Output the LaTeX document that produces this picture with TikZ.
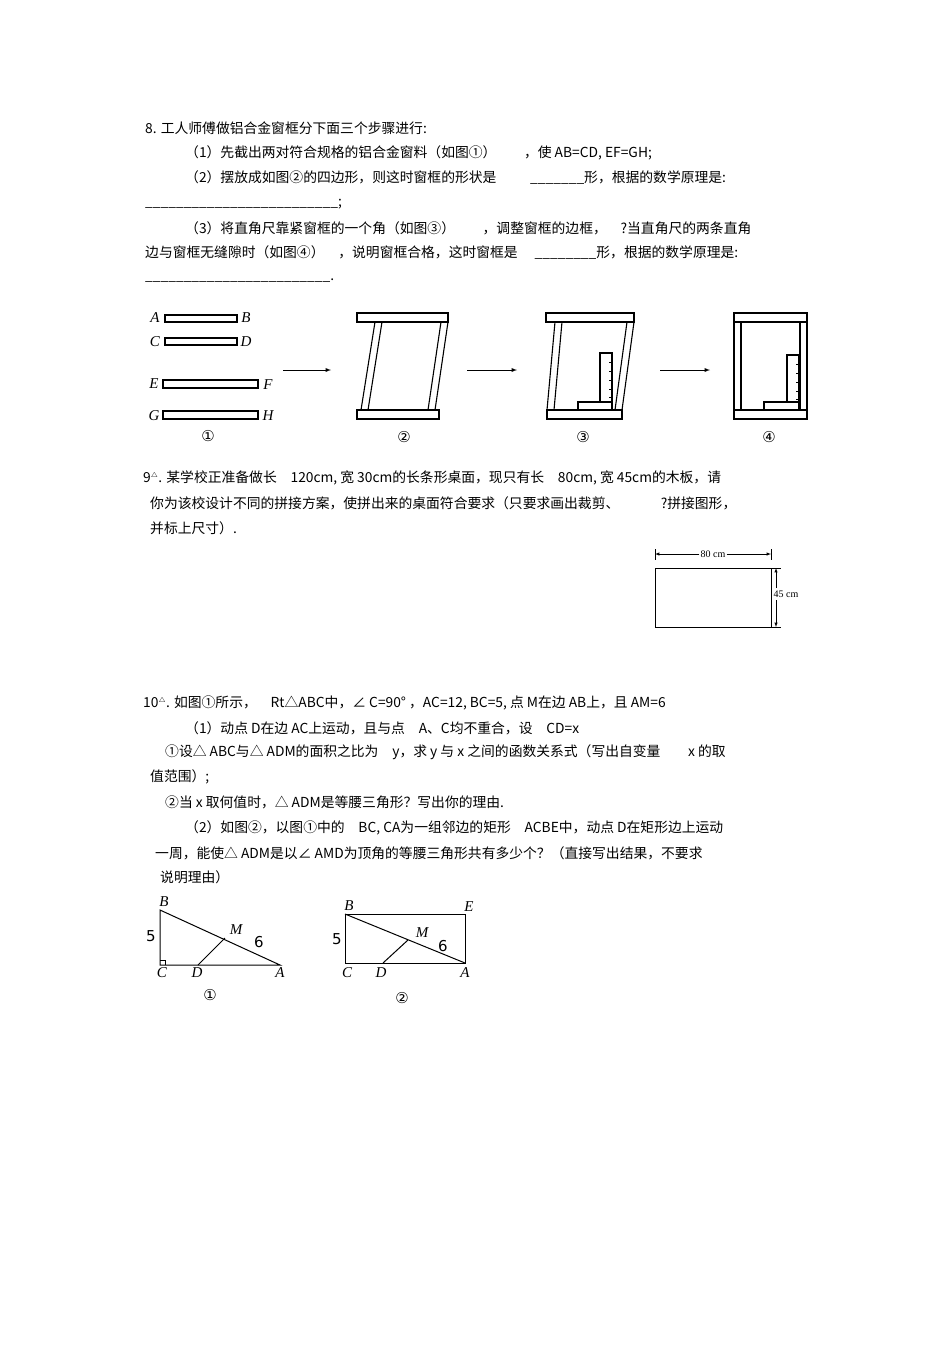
\documentclass[tikz,border=0pt]{standalone}
\usepackage{fontspec}
\setmainfont{Liberation Sans}
\newfontfamily\cjk{Noto Sans CJK SC}
\newfontfamily\djsans{DejaVu Sans}
\newfontfamily\serif{Liberation Serif}
\begin{document}
\begin{tikzpicture}[x=1pt,y=-1pt,
  txt/.style={anchor=west,inner sep=0pt,font=\cjk\fontsize{13.8}{15}\selectfont},
  lab/.style={inner sep=0pt,font=\serif\itshape\fontsize{15}{16}\selectfont},
  num/.style={inner sep=0pt,font=\djsans\fontsize{15}{16}\selectfont},
  bar/.style={draw,line width=1.1pt},
  arr/.style={-latex,line width=0.9pt},
  ln/.style={line width=1pt}]
\useasboundingbox (0,0) rectangle (950,1345);
% Q8 text
\node[txt] (t1) at (145,128) {8. 工人师傅做铝合金窗框分下面三个步骤进行:};
\node[txt] (t2) at (185,153) {（1）先截出两对符合规格的铝合金窗料（如图①）\quad\quad ，使 AB=CD, EF=GH;};
\node[txt] (t3) at (185,178) {（2）摆放成如图②的四边形，则这时窗框的形状是\quad\quad\ \ \_\_\_\_\_\_\_形，根据的数学原理是:};
\node[txt] (t4) at (145,204) {\_\_\_\_\_\_\_\_\_\_\_\_\_\_\_\_\_\_\_\_\_\_\_\_\_;};
\node[txt] (t5) at (185,228) {（3）将直角尺靠紧窗框的一个角（如图③）\quad\quad ，调整窗框的边框，\quad ?当直角尺的两条直角};
\node[txt] (t6) at (145,253) {边与窗框无缝隙时（如图④）\quad ，说明窗框合格，这时窗框是\quad\ \_\_\_\_\_\_\_\_形，根据的数学原理是:};
\node[txt] (t7) at (145,281) {\_\_\_\_\_\_\_\_\_\_\_\_\_\_\_\_\_\_\_\_\_\_\_\_.};
% fig 1
\draw[bar] (165,315) rectangle (237,322);
\draw[bar] (165,338) rectangle (237,345);
\draw[bar] (163,380) rectangle (258,388);
\draw[bar] (163,411) rectangle (258,419);
\node[lab] (A) at (155,318) {A}; \node[lab] (B) at (246,318) {B};
\node[lab] (C) at (155,342) {C}; \node[lab] (D) at (246,342) {D};
\node[lab] (E) at (154,384) {E}; \node[lab] (F) at (268,385) {F};
\node[lab] (G) at (154,416) {G}; \node[lab] (H) at (268,416) {H};
\node[num] (c1) at (208,436) {①};
\coordinate (a1s) at (283,370); \coordinate (a1e) at (331,370);
\coordinate (a2s) at (467,370); \coordinate (a2e) at (517,370);
\coordinate (a3s) at (660,370); \coordinate (a3e) at (710,370);
\draw[arr] (a1s) -- (a1e); \draw[arr] (a2s) -- (a2e); \draw[arr] (a3s) -- (a3e);
% frame 2
\draw[bar] (357,313) rectangle (448,322);
\draw[bar] (357,410) rectangle (439,419);
\draw[bar] (375,322) -- (361,410) (382,322) -- (368,410);
\draw[bar] (441,322) -- (428,410) (448,322) -- (435,410);
\node[num] (c2) at (404,437) {②};
% frame 3
\draw[bar] (546,313) rectangle (634,322);
\draw[bar] (547,410) rectangle (622,419);
\draw[bar] (555,322) -- (547,410) (562,322) -- (554,410);
\draw[bar] (627,322) -- (615,410) (634,322) -- (622,410);
\draw[bar] (600,353) rectangle (612,402);
\draw[bar] (578,402) rectangle (612,410);
\foreach \y in {362,371,380,389,397} \draw[line width=0.8pt] (612,\y) -- (609,\y);
\node[num] (c3) at (583,437) {③};
% frame 4
\draw[bar] (734,313) rectangle (807,322);
\draw[bar] (734,410) rectangle (807,419);
\draw[bar] (734,322) rectangle (741,410);
\draw[bar] (800,322) rectangle (807,410);
\draw[bar] (787,355) rectangle (799,402);
\draw[bar] (764,402) rectangle (799,410);
\foreach \y in {364,373,382,391,399} \draw[line width=0.8pt] (799,\y) -- (796,\y);
\node[num] (c4) at (769,437) {④};
% Q9
\node[txt] (u1) at (143,478) {9$^{\scriptscriptstyle\triangle}$. 某学校正准备做长\quad 120cm, 宽\ 30cm的长条形桌面，现只有长\quad 80cm, 宽\ 45cm的木板，请};
\node[txt] (u2) at (150,503) {你为该校设计不同的拼接方案，使拼出来的桌面符合要求（只要求画出裁剪、\qquad\quad ?拼接图形，};
\node[txt] (u3) at (150,528) {并标上尺寸）.};
\draw[ln] (655,568) rectangle (771,627);
\draw[line width=0.5pt] (655,549) -- (655,560) (771,549) -- (771,560);
\node[inner sep=1pt,fill=white,font=\serif\fontsize{10}{11}\selectfont] (l80) at (713,554) {80 cm};
\draw[-latex,line width=0.5pt] (l80.west) -- (655,554);
\draw[-latex,line width=0.5pt] (l80.east) -- (771,554);
\draw[line width=0.5pt] (771,568) -- (781,568) (771,627) -- (781,627);
\node[inner sep=1pt,fill=white,font=\serif\fontsize{10}{11}\selectfont] (l45) at (786,594) {45 cm};
\draw[-latex,line width=0.5pt] (776,588) -- (776,568);
\draw[-latex,line width=0.5pt] (776,600) -- (776,627);
% Q10
\node[txt] (v1) at (143,703) {10$^{\scriptscriptstyle\triangle}$. 如图①所示，\quad Rt△ABC中，∠ C=90°\ ，AC=12, BC=5, 点 M在边 AB上，且 AM=6};
\node[txt] (v2) at (185,728) {（1）动点 D在边 AC上运动，且与点\quad A、C均不重合，设\quad CD=x};
\node[txt] (v3) at (165,752) {①设△ ABC与△ ADM的面积之比为\quad y，求 y 与 x 之间的函数关系式（写出自变量\qquad x 的取};
\node[txt] (v4) at (150,777) {值范围）;};
\node[txt] (v5) at (165,802) {②当 x 取何值时，△ ADM是等腰三角形？写出你的理由.};
\node[txt] (v6) at (185,828) {（2）如图②，以图①中的\quad BC, CA为一组邻边的矩形\quad ACBE中，动点\ D在矩形边上运动};
\node[txt] (v7) at (155,853) {一周，能使△ ADM是以∠ AMD为顶角的等腰三角形共有多少个？（直接写出结果，不要求};
\node[txt] (v8) at (160,877) {说明理由）};
% fig Q10-1
\coordinate (pB) at (160,910); \coordinate (pC) at (160,965);
\coordinate (pA) at (280,965); \coordinate (pM) at (225,938); \coordinate (pD) at (198,965);
\draw[ln] (pB) -- (pC) -- (pA) -- cycle;
\draw[ln] (pM) -- (pD);
\draw[line width=0.7pt] (160,960) -- (165,960) -- (165,965);
\node[lab] (qB) at (164,902) {B}; \node[num] (q5) at (151,936) {5};
\node[lab] (qC) at (162,973) {C}; \node[lab] (qD) at (197,973) {D};
\node[lab] (qA) at (280,973) {A}; \node[lab] (qM) at (236,930) {M};
\node[num] (q6) at (259,942) {6};
\node[num] (c5) at (210,995) {①};
% fig Q10-2
\coordinate (rB) at (345,914); \coordinate (rE) at (465,914);
\coordinate (rA) at (465,963); \coordinate (rC) at (345,963);
\coordinate (rM) at (408,940); \coordinate (rD) at (383,963);
\draw[ln] (rB) -- (rE) -- (rA) -- (rC) -- cycle;
\draw[ln] (rB) -- (rA); \draw[ln] (rM) -- (rD);
\node[lab] (sB) at (349,906) {B}; \node[lab] (sE) at (469,907) {E};
\node[num] (s5) at (337,939) {5};
\node[lab] (sC) at (347,973) {C}; \node[lab] (sD) at (381,973) {D};
\node[lab] (sA) at (465,973) {A}; \node[lab] (sM) at (422,933) {M};
\node[num] (s6) at (443,946) {6};
\node[num] (c6) at (402,998) {②};
\end{tikzpicture}
\end{document}
